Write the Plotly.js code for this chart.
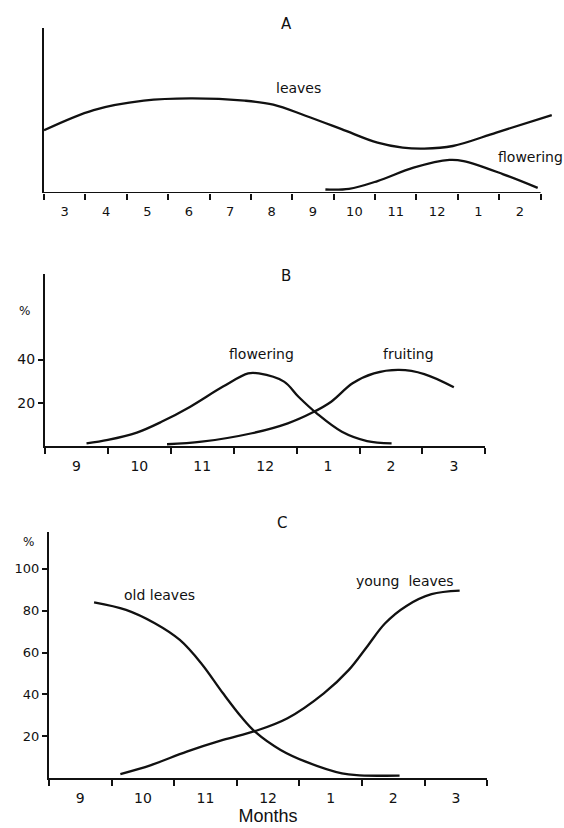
<!DOCTYPE html>
<html>
<head>
<meta charset="utf-8">
<script src="https://cdn.plot.ly/plotly-3.0.1.min.js"></script>
<style>
  html, body { margin: 0; padding: 0; background: #fff; }
  #chart { width: 564px; height: 828px; }
</style>
</head>
<body>
<div id="chart"></div>
<script>
// ---------- Panel A (months Mar..Feb, relative units) ----------
const monthsA = ['3','4','5','6','7','8','9','10','11','12','1','2'];
const leavesAX = [0, 1.2, 2.41, 3.54, 4.85, 5.54, 6.32, 7.19, 8.06, 8.67, 9.19, 9.88, 10.93, 12.27];
const leavesAY = [37.9, 50.1, 55.8, 57.2, 55.8, 53.4, 46.7, 38.6, 30.4, 27.4, 26.8, 28.4, 36.5, 47.1];
const floweringAX = [6.80, 7.37, 8.06, 8.93, 9.80, 10.14, 11.10, 11.93];
const floweringAY = [2.1, 2.5, 7.2, 15.3, 20.0, 19.3, 11.3, 3.1];

// ---------- Panel B (months Sep..Mar, %) ----------
const monthsB = ['9','10','11','12','1','2','3'];
const floweringBX = [0.66, 1.0, 1.46, 1.86, 2.31, 2.83, 3.23, 3.40, 3.80, 4.03, 4.32, 4.72, 5.12, 5.51];
const floweringBY = [1.2, 2.8, 6.2, 11.3, 18.2, 27.5, 33.6, 33.6, 29.8, 22.8, 15.1, 6.6, 2.3, 1.2];
const fruitingBX = [1.94, 2.49, 3.29, 3.86, 4.26, 4.55, 4.89, 5.23, 5.63, 6.03, 6.50];
const fruitingBY = [0.8, 2.0, 5.9, 10.5, 15.6, 20.5, 29.0, 33.6, 35.2, 33.3, 27.2];
const yTicksB = [20, 40];

// ---------- Panel C (months Sep..Mar, %) ----------
const monthsC = ['9','10','11','12','1','2','3'];
const oldLeavesX = [0.72, 1.23, 1.69, 2.09, 2.43, 2.78, 3.07, 3.30, 3.70, 4.10, 4.68, 4.96, 5.60];
const oldLeavesY = [84, 80.4, 74, 66, 54.9, 40.5, 29.3, 21.9, 13.4, 7.8, 2.2, 1.3, 1.1];
const youngLeavesX = [1.14, 1.63, 2.20, 2.78, 3.30, 3.81, 4.39, 4.79, 5.08, 5.37, 5.71, 6.11, 6.56];
const youngLeavesY = [1.9, 6.2, 12.6, 18.2, 22.5, 28.6, 40.5, 51.7, 62.8, 74, 82.3, 87.9, 89.6];
const yTicksC = [20, 40, 60, 80, 100];

const INK = '#111';
const FONT = 'DejaVu Sans, Liberation Sans, sans-serif';
const FONT2 = 'Liberation Sans, Arial, sans-serif';
const W = 564, H = 828;
const px = v => v / W;
const py = v => 1 - v / H;

function line(x, y, xa, ya) {
  return { x, y, xaxis: xa, yaxis: ya, type: 'scatter', mode: 'lines',
    line: { color: INK, width: 2.3, shape: 'spline', smoothing: 1 }, hoverinfo: 'skip' };
}

const data = [
  line(leavesAX, leavesAY, 'x', 'y'),
  line(floweringAX, floweringAY, 'x', 'y'),
  line(floweringBX, floweringBY, 'x2', 'y2'),
  line(fruitingBX, fruitingBY, 'x2', 'y2'),
  line(oldLeavesX, oldLeavesY, 'x3', 'y3'),
  line(youngLeavesX, youngLeavesY, 'x3', 'y3')
];

function monthAxis(months, domain, range, anchor, lbl, showline) {
  return {
    domain, range, anchor,
    tickmode: 'array',
    tickvals: months.map((_, i) => i + 0.5),
    ticktext: months,
    ticks: 'outside', ticklen: 6, tickcolor: 'rgba(0,0,0,0)',
    tickfont: { family: FONT, size: lbl, color: INK },
    minor: { tick0: 0, dtick: 1, ticks: 'outside', ticklen: 6, tickwidth: 2, tickcolor: INK, showgrid: false },
    showline, linecolor: INK, linewidth: 2,
    showgrid: false, zeroline: false, fixedrange: true
  };
}

function valueAxis(domain, range, anchor, tickvals, size) {
  return {
    domain, range, anchor,
    tickmode: 'array', tickvals: tickvals || [],
    ticks: tickvals ? 'outside' : '', ticklen: 5, tickwidth: 2, tickcolor: INK,
    showticklabels: !!tickvals,
    tickfont: { family: FONT, size: size || 13, color: INK },
    showline: true, linecolor: INK, linewidth: 2,
    showgrid: false, zeroline: false, fixedrange: true
  };
}

function note(text, x, y, size, fam) {
  return { text, x: px(x), y: py(y), xref: 'paper', yref: 'paper', showarrow: false,
    xanchor: 'center', yanchor: 'middle', font: { family: fam || FONT, size: size || 13, color: INK } };
}

const xA = monthAxis(monthsA, [px(44), px(553)], [0, 12.3], 'y', 13, false);
const xB = monthAxis(monthsB, [px(45), px(485.3)], [0, monthsB.length], 'y2', 14, true);
const xC = monthAxis(monthsC, [px(49), px(487.2)], [0, monthsC.length], 'y3', 14, true);
xC.title = { text: 'Months', font: { family: FONT2, size: 18, color: INK }, standoff: 5 };

const layout = {
  width: W, height: H,
  margin: { l: 0, r: 0, t: 0, b: 0 },
  paper_bgcolor: '#fff', plot_bgcolor: '#fff',
  showlegend: false,
  xaxis: xA,
  yaxis: valueAxis([py(193), py(27.5)], [0, 100], 'x', null),
  xaxis2: xB,
  yaxis2: valueAxis([py(446), py(274)], [0, 79.6], 'x2', yTicksB, 14),
  xaxis3: xC,
  yaxis3: valueAxis([py(778), py(532.3)], [0, 117.5], 'x3', yTicksC, 13),
  shapes: [
    { type: 'line', xref: 'x', yref: 'y', x0: 0, x1: monthsA.length, y0: 0, y1: 0,
      line: { color: INK, width: 2 } }
  ],
  annotations: [
    note('A', 286, 23.5, 15),
    note('leaves', 298.6, 88, 14),
    note('flowering', 530.6, 157, 14),
    note('B', 286, 276, 15),
    note('%', 24.5, 311, 12),
    note('flowering', 261, 354, 14),
    note('fruiting', 408, 354, 14),
    note('C', 281.7, 523.3, 15),
    note('%', 28.8, 541.7, 12),
    note('old leaves', 159.4, 595, 14),
    note('young\u00a0\u00a0leaves', 404.7, 581, 14)
  ]
};

Plotly.newPlot('chart', data, layout, { staticPlot: true, displayModeBar: false });
</script>
</body>
</html>
